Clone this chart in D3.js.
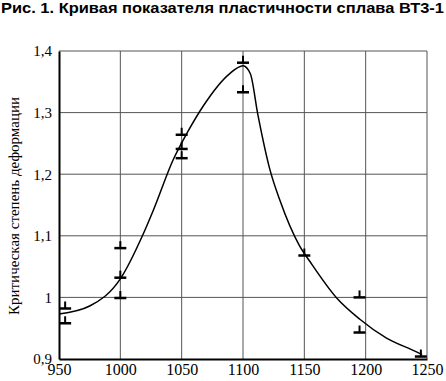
<!DOCTYPE html>
<html>
<head>
<meta charset="utf-8">
<script src="https://cdn.jsdelivr.net/npm/d3@7"></script>
<style>
  body { margin: 0; background: #fff; }
  svg { display: block; }
</style>
</head>
<body>
<div id="chart"></div>
<script>
// data -------------------------------------------------------------
const titleText = 'Рис. 1. Кривая показателя пластичности сплава ВТ3-1';
const yLabel = 'Критическая степень деформации';
const xTicks = [950, 1000, 1050, 1100, 1150, 1200, 1250];
const yTicks = [0.9, 1.0, 1.1, 1.2, 1.3, 1.4];
// experimental points (temperature, value)
const pointTemp = [955, 955, 1000, 1000, 1000, 1050, 1050, 1050, 1100, 1100, 1150, 1195, 1195, 1245];
const pointVal  = [0.982, 0.958, 1.080, 1.032, 0.999, 1.264, 1.241, 1.226, 1.381, 1.333, 1.068, 1.000, 0.943, 0.904];
// curve
const curveTemp = [950, 975, 1000, 1018, 1027, 1043, 1055, 1068, 1089, 1100, 1106, 1112, 1122, 1130, 1146, 1155, 1176, 1195, 1217, 1241, 1246];
const curveVal  = [0.973, 0.986, 1.030, 1.100, 1.142, 1.223, 1.269, 1.312, 1.363, 1.376, 1.363, 1.298, 1.207, 1.158, 1.084, 1.057, 1.000, 0.965, 0.934, 0.912, 0.907];

// size -------------------------------------------------------------
const width = 446, height = 381;
const margin = { top: 51, right: 19, bottom: 22, left: 59 };

const svg = d3.select('#chart').append('svg')
  .attr('width', width)
  .attr('height', height);

const xScale = d3.scaleLinear()
  .domain([950, 1250])
  .range([margin.left, width - margin.right]);
const yScale = d3.scaleLinear()
  .domain([0.9, 1.4])
  .range([height - margin.bottom, margin.top]);

// title
svg.append('text')
  .attr('x', 1)
  .attr('y', 13)
  .attr('textLength', 443)
  .attr('lengthAdjust', 'spacingAndGlyphs')
  .attr('font-family', '"Liberation Sans", Arial, sans-serif')
  .attr('font-weight', 'bold')
  .attr('font-size', '15.5px')
  .text(titleText);

// grid
const grid = svg.append('g').attr('stroke', '#555').attr('stroke-width', 1);
grid.selectAll('line.gx')
  .data(xTicks.slice(1))
  .enter().append('line')
  .attr('x1', d => xScale(d)).attr('x2', d => xScale(d))
  .attr('y1', yScale(0.9)).attr('y2', yScale(1.4));
grid.selectAll('line.gy')
  .data(yTicks.slice(1))
  .enter().append('line')
  .attr('x1', xScale(950)).attr('x2', xScale(1250))
  .attr('y1', d => yScale(d)).attr('y2', d => yScale(d));

// axes
svg.append('g')
  .attr('transform', 'translate(0,' + (height - margin.bottom) + ')')
  .call(d3.axisBottom(xScale).tickValues(xTicks).tickSize(0).tickPadding(5)
    .tickFormat(d3.format('d')))
  .call(g => g.select('.domain').attr('stroke', '#000').attr('stroke-width', 2))
  .selectAll('text')
  .attr('font-family', '"Liberation Serif", "Times New Roman", serif')
  .attr('font-size', '16px')
  .attr('fill', '#000');

svg.append('g')
  .attr('transform', 'translate(' + margin.left + ',0)')
  .call(d3.axisLeft(yScale).tickValues(yTicks).tickSize(0).tickPadding(7)
    .tickFormat(d => d3.format('.1f')(d).replace('.', ',').replace(',0', '')))
  .call(g => g.select('.domain').attr('stroke', '#000').attr('stroke-width', 2))
  .selectAll('text')
  .attr('font-family', '"Liberation Serif", "Times New Roman", serif')
  .attr('font-size', '15px')
  .attr('fill', '#000');

// y label
svg.append('text')
  .attr('transform', 'translate(19,' + 206 + ') rotate(-90)')
  .attr('text-anchor', 'middle')
  .attr('font-family', '"Liberation Serif", "Times New Roman", serif')
  .attr('font-size', '15px')
  .text(yLabel);

// curve
const curveData = curveTemp.map((t, i) => ({ t: t, v: curveVal[i] }));
svg.append('path')
  .datum(curveData)
  .attr('fill', 'none')
  .attr('stroke', '#000')
  .attr('stroke-width', 1.5)
  .attr('d', d3.line()
    .x(d => xScale(d.t))
    .y(d => yScale(d.v))
    .curve(d3.curveMonotoneX));

// markers (⊥)
const pts = pointTemp.map((t, i) => ({ t: t, v: pointVal[i] }));
const mk = svg.append('g').selectAll('g')
  .data(pts)
  .enter().append('g')
  .attr('transform', d => 'translate(' + xScale(d.t) + ',' + yScale(d.v) + ')');
mk.append('line')
  .attr('x1', -6).attr('x2', 6).attr('y1', 0).attr('y2', 0)
  .attr('stroke', '#000').attr('stroke-width', 2.5);
mk.append('line')
  .attr('x1', 0).attr('x2', 0).attr('y1', 0).attr('y2', -7)
  .attr('stroke', '#000').attr('stroke-width', 2);
</script>
</body>
</html>
